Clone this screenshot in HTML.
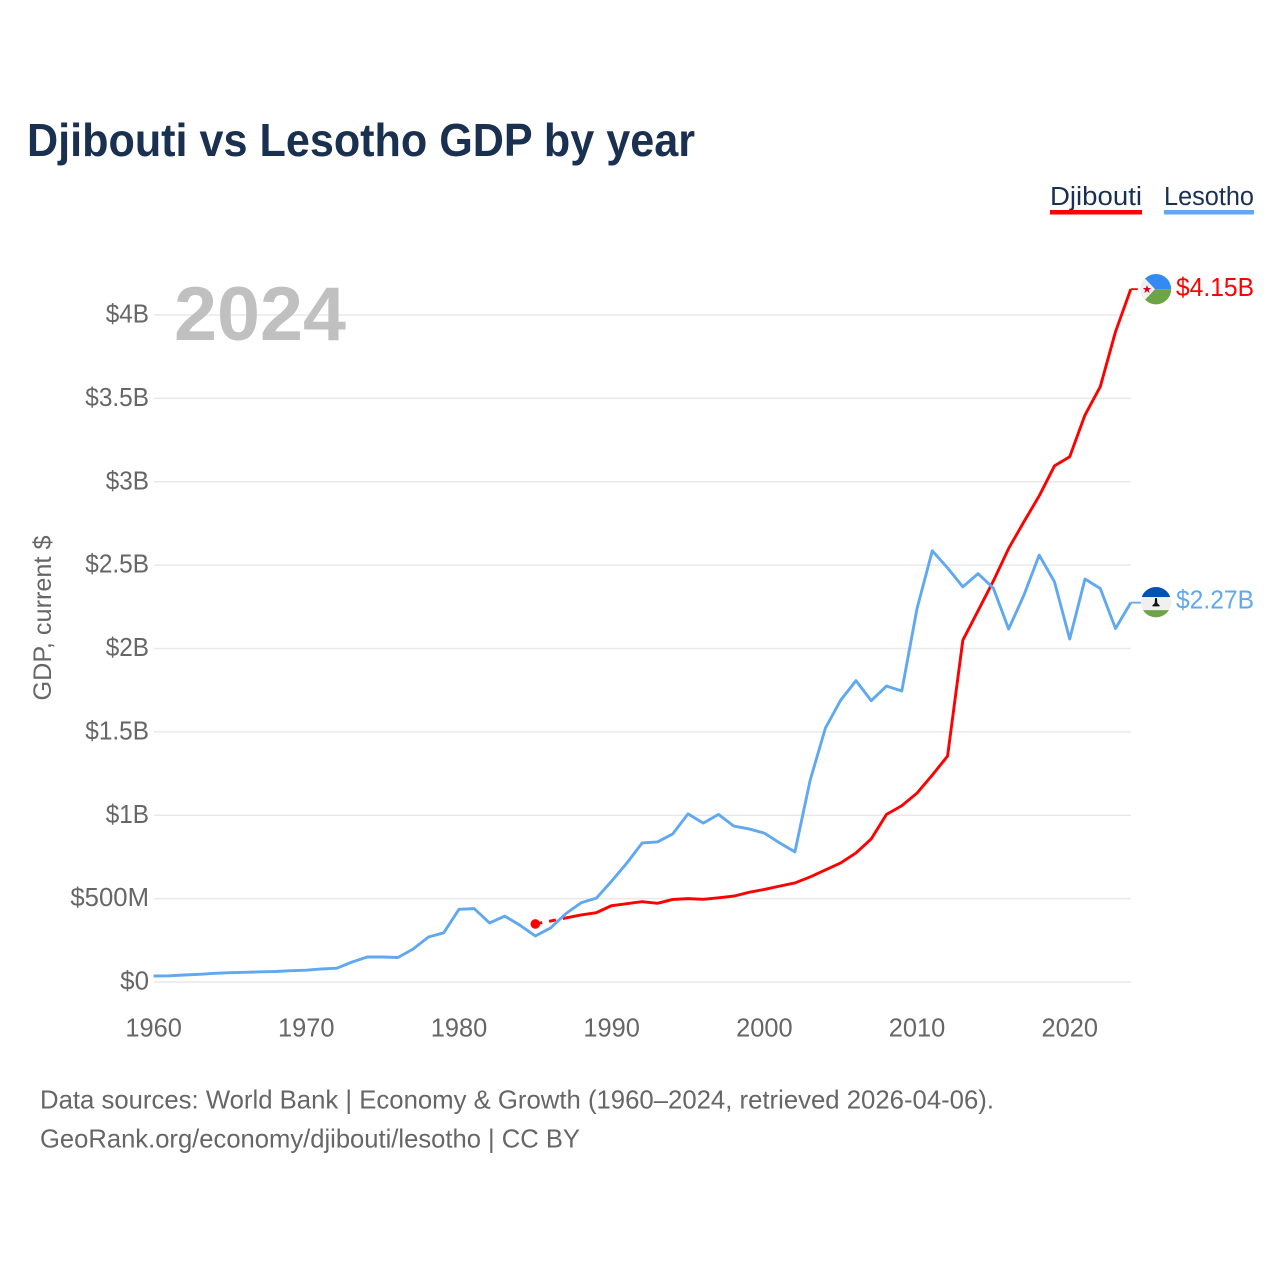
<!DOCTYPE html>
<html lang="en">
<head>
<meta charset="utf-8">
<title>Djibouti vs Lesotho GDP by year</title>
<style>
html,body{margin:0;padding:0;background:#fff;}
svg{display:block;}
text{font-family:"Liberation Sans",sans-serif;}
</style>
</head>
<body>
<svg id="chart" xmlns="http://www.w3.org/2000/svg" width="1280" height="1280" viewBox="0 0 1280 1280">
  <defs>
    <clipPath id="flag-clip"><circle cx="0" cy="0" r="15.2"></circle></clipPath>
  </defs>
  <rect x="0" y="0" width="1280" height="1280" fill="#ffffff"></rect>
  <text x="27" y="156" font-size="46" font-weight="700" fill="#1a3050" textLength="668" lengthAdjust="spacingAndGlyphs">Djibouti vs Lesotho GDP by year</text>

  <text x="1050" y="205" font-size="25.5" fill="#1a3050" textLength="92" lengthAdjust="spacingAndGlyphs">Djibouti</text>
  <rect x="1050" y="210" width="92" height="4.5" fill="#ff0000"></rect>
  <text x="1164" y="205" font-size="25.5" fill="#1a3050" textLength="90" lengthAdjust="spacingAndGlyphs">Lesotho</text>
  <rect x="1164" y="210" width="90" height="4.5" fill="#60a8f0"></rect>

  <g id="grid"></g>
  <g id="y-ticks"></g>
  <g id="x-ticks"></g>

  <text transform="translate(51,618) rotate(-90)" text-anchor="middle" font-size="25" fill="#666666" textLength="165" lengthAdjust="spacingAndGlyphs">GDP, current $</text>
  <text x="174" y="340" font-size="76" font-weight="700" fill="#c0c0c0" textLength="172" lengthAdjust="spacingAndGlyphs">2024</text>

  <g id="series"></g>
  <g id="labels"></g>

  <text x="40" y="1108.5" font-size="26" fill="#666666" textLength="954" lengthAdjust="spacingAndGlyphs">Data sources: World Bank | Economy &amp; Growth (1960–2024, retrieved 2026-04-06).</text>
  <text x="40" y="1147.5" font-size="26" fill="#666666" textLength="540" lengthAdjust="spacingAndGlyphs">GeoRank.org/economy/djibouti/lesotho | CC BY</text>
</svg>

<script>
const years = [1960,1961,1962,1963,1964,1965,1966,1967,1968,1969,1970,1971,1972,1973,1974,1975,1976,1977,1978,1979,1980,1981,1982,1983,1984,1985,1986,1987,1988,1989,1990,1991,1992,1993,1994,1995,1996,1997,1998,1999,2000,2001,2002,2003,2004,2005,2006,2007,2008,2009,2010,2011,2012,2013,2014,2015,2016,2017,2018,2019,2020,2021,2022,2023,2024];
const lesothoGdp = [0.036,0.037,0.042,0.046,0.052,0.056,0.058,0.061,0.063,0.068,0.071,0.078,0.083,0.12,0.15,0.15,0.147,0.198,0.27,0.295,0.436,0.44,0.354,0.395,0.34,0.276,0.324,0.41,0.475,0.503,0.605,0.714,0.834,0.84,0.888,1.008,0.953,1.005,0.935,0.918,0.893,0.834,0.78,1.21,1.523,1.69,1.807,1.687,1.775,1.745,2.24,2.586,2.483,2.37,2.449,2.362,2.117,2.32,2.56,2.40,2.057,2.417,2.36,2.12,2.275];
const djiboutiYears = [1985,1987,1988,1989,1990,1991,1992,1993,1994,1995,1996,1997,1998,1999,2000,2001,2002,2003,2004,2005,2006,2007,2008,2009,2010,2011,2012,2013,2014,2015,2016,2017,2018,2019,2020,2021,2022,2023,2024];
const djiboutiGdp = [0.348,0.384,0.402,0.416,0.458,0.47,0.482,0.472,0.495,0.5,0.496,0.505,0.515,0.538,0.555,0.575,0.594,0.63,0.672,0.714,0.774,0.858,1.005,1.057,1.133,1.241,1.355,2.05,2.227,2.405,2.60,2.76,2.915,3.095,3.15,3.40,3.57,3.90,4.155];
const yTickValues = [0,0.5,1,1.5,2,2.5,3,3.5,4];
const yTickLabels = ["$0","$500M","$1B","$1.5B","$2B","$2.5B","$3B","$3.5B","$4B"];
const xTickYears = [1960,1970,1980,1990,2000,2010,2020];
const xTickLabels = ["1960","1970","1980","1990","2000","2010","2020"];
const djiboutiLabel = "$4.15B";
const lesothoLabel = "$2.27B";

const NS = "http://www.w3.org/2000/svg";
const xScale = function (year) { return 153.6 + (year - 1960) * (1130.8 - 153.6) / 64; };
const yScale = function (v) { return 982 - v * 166.75; };

function labelWidth(str) {
  let w = 0;
  for (const c of str) {
    if (c === ".") w += 6;
    else if (c === "B") w += 14.5;
    else if (c === "M") w += 21;
    else w += 14.4;
  }
  return w;
}
function make(tag, attrs, parent) {
  const el = document.createElementNS(NS, tag);
  Object.keys(attrs).forEach(function (k) { el.setAttribute(k, attrs[k]); });
  parent.appendChild(el);
  return el;
}
function pathFrom(xs, vs) {
  return xs.map(function (x, i) {
    return (i ? "L" : "M") + xScale(x).toFixed(2) + " " + yScale(vs[i]).toFixed(2);
  }).join(" ");
}

const grid = document.getElementById("grid");
const yTicks = document.getElementById("y-ticks");
const xTicks = document.getElementById("x-ticks");
const series = document.getElementById("series");
const labels = document.getElementById("labels");

yTickValues.forEach(function (v, i) {
  const line = make("line", {x1: 154, x2: 1131, y1: yScale(v), y2: yScale(v), stroke: "#e9e9e9", "stroke-width": 1.6}, grid);
  
  
  const t = make("text", {x: 149, y: yScale(v) + 7.5, "text-anchor": "end", "font-size": 25.5, fill: "#666666", textLength: labelWidth(yTickLabels[i]), lengthAdjust: "spacingAndGlyphs"}, yTicks);
  
  
  t.textContent = yTickLabels[i];
});

xTickYears.forEach(function (yr, i) {
  const t = make("text", {x: xScale(yr), y: 1036.5, "text-anchor": "middle", "font-size": 25.5, fill: "#666666", textLength: 56.5, lengthAdjust: "spacingAndGlyphs"}, xTicks);
  
  
  t.textContent = xTickLabels[i];
});

const lineStyle = {fill: "none", "stroke-width": 2.9, "stroke-linejoin": "round", "stroke-linecap": "butt"};

/* Djibouti: dashed gap section at the start, then solid */
const redDash = make("path", Object.assign({d: pathFrom(djiboutiYears.slice(0, 2), djiboutiGdp.slice(0, 2)), stroke: "#ff0000", "stroke-dasharray": "7 7"}, lineStyle), series);



const redLine = make("path", Object.assign({d: pathFrom(djiboutiYears.slice(1), djiboutiGdp.slice(1)), stroke: "#ff0000"}, lineStyle), series);



const redDot = make("circle", {cx: xScale(djiboutiYears[0]), cy: yScale(djiboutiGdp[0]), r: 4.8, fill: "#ff0000"}, series);



const blueLine = make("path", Object.assign({d: pathFrom(years, lesothoGdp), stroke: "#60a8f0"}, lineStyle), series);



/* connectors and end labels */
const lastRedY = yScale(djiboutiGdp[djiboutiGdp.length - 1]);
const lastBlueY = yScale(lesothoGdp[lesothoGdp.length - 1]);
const endX = xScale(2024);

const redConn = make("line", {x1: endX, x2: endX + 7, y1: lastRedY, y2: lastRedY, stroke: "#ff0000", "stroke-width": 1.8}, labels);



const blueConn = make("line", {x1: endX, x2: endX + 11, y1: lastBlueY, y2: lastBlueY, stroke: "#60a8f0", "stroke-width": 1.8}, labels);



/* Djibouti flag */
const fd = make("g", {transform: "translate(1156," + lastRedY + ")", "clip-path": "url(#flag-clip)"}, labels);


make("rect", {x: -16, y: -16, width: 32, height: 16, fill: "#338af3"}, fd);
make("rect", {x: -16, y: 0, width: 32, height: 16, fill: "#6da544"}, fd);
make("polygon", {points: "-16,-16 -16,16 -1,0", fill: "#f0f0f0"}, fd);
make("polygon", {points: "-9,-4 -7.9,-1.1 -4.8,-1.1 -7.3,0.8 -6.4,3.8 -9,2 -11.6,3.8 -10.7,0.8 -13.2,-1.1 -10.1,-1.1", fill: "#d80027"}, fd);

/* Lesotho flag */
const fl = make("g", {transform: "translate(1156," + (lastBlueY - 0.5) + ")", "clip-path": "url(#flag-clip)"}, labels);


make("rect", {x: -16, y: -16, width: 32, height: 11, fill: "#0052b4"}, fl);
make("rect", {x: -16, y: -5, width: 32, height: 13, fill: "#f0f0f0"}, fl);
make("rect", {x: -16, y: 8, width: 32, height: 8, fill: "#6da544"}, fl);
make("polygon", {points: "-1,-4 1,-4 1.3,1 3.6,3.2 3.6,4.2 -3.6,4.2 -3.6,3.2 -1.3,1", fill: "#111111"}, fl);

const redText = make("text", {x: 1176, y: lastRedY + 7, "font-size": 25.5, fill: "#ff0000", textLength: 78, lengthAdjust: "spacingAndGlyphs"}, labels);


redText.textContent = djiboutiLabel;

const blueText = make("text", {x: 1176, y: lastBlueY + 6, "font-size": 25.5, fill: "#60a8f0", textLength: 78, lengthAdjust: "spacingAndGlyphs"}, labels);


blueText.textContent = lesothoLabel;
</script>
</body>
</html>
